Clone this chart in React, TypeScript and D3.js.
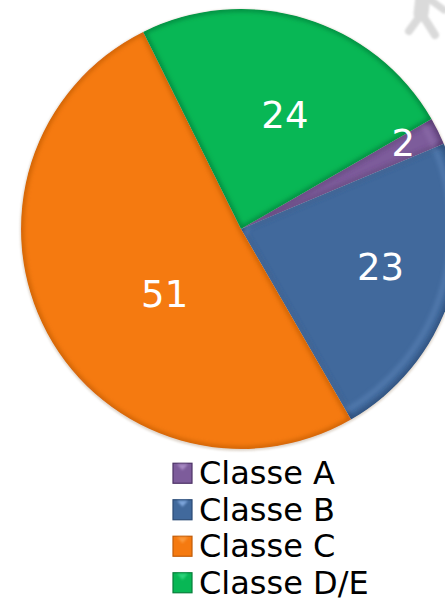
import React from "react";
import * as d3 from "d3";

const categories = ["Classe A", "Classe B", "Classe C", "Classe D/E"];
const values = [2, 23, 51, 24];
const baseColors = ["#7d5c9b", "#41699c", "#f57a10", "#08b755"];
const edgeColors = ["#4d3266", "#2a4a75", "#c25c08", "#067f3a"];
const lightColors = ["#a88bc4", "#7ea6dc", "#fb9a3c", "#2fd47c"];
const labelDx = [11, 6, 25, 2];
const labelDy = [-10, -6, 11, 25];

const W = 445, H = 601, CX = 241, CY = 229, R = 220;
const labelRadius = [169, 141, 115, 145];

const pie = d3.pie<number>().sort(null).startAngle((60 * Math.PI) / 180).endAngle((420 * Math.PI) / 180);
const arc = d3.arc<d3.PieArcDatum<number>>().innerRadius(0).outerRadius(R);
const innerArc = d3.arc<d3.PieArcDatum<number>>().innerRadius(6).outerRadius(R - 10);
const arcs = pie(values);

const legendY = d3.scaleBand<number>().domain(d3.range(categories.length)).range([455, 601]);

export default function App() {
  return (
    <svg width={W} height={H} style={{ position: "absolute", left: 0, top: 0, background: "#fff" }} fontFamily="'DejaVu Sans', Verdana, sans-serif">
      <defs>
        <filter id="b3" x="-20%" y="-20%" width="140%" height="140%"><feGaussianBlur stdDeviation="2.5" /></filter>
        <filter id="b1" x="-30%" y="-30%" width="160%" height="160%"><feGaussianBlur stdDeviation="1" /></filter>
        {arcs.map((a, i) => (
          <clipPath id={`c${i}`} key={i}><path d={arc(a) as string} transform={`translate(${CX},${CY})`} /></clipPath>
        ))}
      </defs>
      <g stroke="#dadada" strokeLinecap="round" fill="none" filter="url(#b1)">
        <path d="M423,-4 L421,14" strokeWidth={15} />
        <path d="M420,16 L409,31" strokeWidth={8} />
        <path d="M423,16 L435,35" strokeWidth={8} />
        <path d="M428,-2 L444,10" strokeWidth={7} />
      </g>
      <circle cx={CX} cy={CY + 1} r={R + 1} fill="#b9a58f" opacity={0.45} filter="url(#b1)" />
      {arcs.map((a, i) => (
        <g key={i} clipPath={`url(#c${i})`}>
          <g transform={`translate(${CX},${CY})`}>
            <path d={arc(a) as string} fill={baseColors[i]} />
            <path d={arc(a) as string} fill="none" stroke={edgeColors[i]} strokeWidth={4} filter="url(#b3)" />
            {i < 2 && <path d={innerArc(a) as string} fill="none" stroke={lightColors[i]} strokeWidth={3} opacity={0.45} filter="url(#b3)" />}
          </g>
        </g>
      ))}
      {arcs.map((a, i) => {
        const mid = (a.startAngle + a.endAngle) / 2;
        return (
          <text key={i} x={CX + labelRadius[i] * Math.sin(mid) + labelDx[i]} y={CY - labelRadius[i] * Math.cos(mid) + labelDy[i]}
            fill="#fff" fontSize={37} textAnchor="middle" dominantBaseline="central">{values[i]}</text>
        );
      })}
      {categories.map((c, i) => {
        const y = (legendY(i) as number) + legendY.bandwidth() / 2;
        return (
          <g key={c}>
            <rect x={173} y={y - 10} width={19} height={20} fill={baseColors[i]} stroke={edgeColors[i]} strokeWidth={1.2} />
            <path d={`M177,${y - 9} L188,${y - 9} L182.5,${y - 3} Z`} fill={lightColors[i]} filter="url(#b1)" />
            <text x={199} y={y} fontSize={32} fill="#000" dominantBaseline="central">{c}</text>
          </g>
        );
      })}
    </svg>
  );
}
